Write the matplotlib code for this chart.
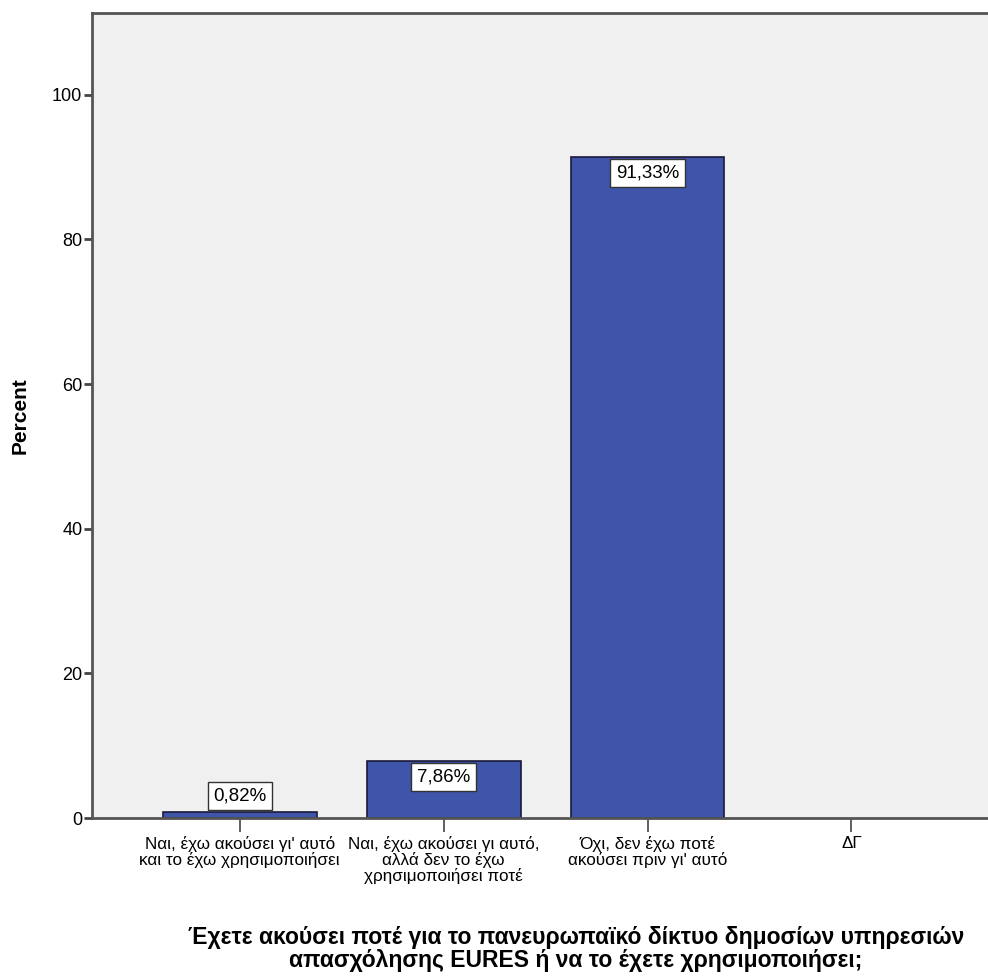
import matplotlib.pyplot as plt

categories = [
    "Ναι, έχω ακούσει γι' αυτό\nκαι το έχω χρησιμοποιήσει",
    "Ναι, έχω ακούσει γι αυτό,\nαλλά δεν το έχω\nχρησιμοποιήσει ποτέ",
    "Όχι, δεν έχω ποτέ\nακούσει πριν γι' αυτό",
    "ΔΓ",
]
percents = [0.82, 7.86, 91.33, 0.0]
value_labels = ["0,82%", "7,86%", "91,33%", None]

plt.rcParams['font.family'] = ['Liberation Sans Narrow', 'Liberation Sans', 'DejaVu Sans']

fig = plt.figure(figsize=(9.88, 9.8), dpi=100)
ax = fig.add_axes([0.0931, 0.1653, 0.9069, 0.8214])
ax.set_facecolor('#f0f0f0')

xs = list(range(len(categories)))
widths = [1.2 if v > 0 else 0 for v in percents]
ax.bar(xs, percents, width=0.755, color='#3f55a9', edgecolor='#1a1a3a', linewidth=widths, zorder=2)

for x, v, lab in zip(xs, percents, value_labels):
    if lab is None:
        continue
    box = dict(boxstyle='square,pad=0.3', facecolor='white', edgecolor='#333333', linewidth=1)
    if v < 3:
        ax.text(x, v + 1.0, lab, ha='center', va='bottom', fontsize=13.5, bbox=box, zorder=3)
    else:
        ax.text(x, v - 1.0, lab, ha='center', va='top', fontsize=13.5, bbox=box, zorder=3)

ax.set_xlim(-0.725, 3.67)
ax.set_ylim(0, 111.3)
ax.set_yticks([0, 20, 40, 60, 80, 100])
ax.set_xticks(xs)
ax.set_xticklabels(categories, fontsize=12.3, linespacing=1.0)
ax.tick_params(axis='y', labelsize=13, length=6, width=2, color='#444444', pad=1)
ax.tick_params(axis='x', length=10, width=1.2, color='#444444', pad=3)

for side in ['left', 'bottom', 'top']:
    ax.spines[side].set_color('#555555')
    ax.spines[side].set_linewidth(2)
ax.spines['right'].set_visible(False)

ax.set_ylabel("Percent", fontsize=15, fontweight='bold', family=['Liberation Sans', 'DejaVu Sans'], labelpad=16)

fig.text(0.583, 0.008,
         "Έχετε ακούσει ποτέ για το πανευρωπαϊκό δίκτυο δημοσίων υπηρεσιών\nαπασχόλησης EURES ή να το έχετε χρησιμοποιήσει;",
         ha='center', va='bottom', fontsize=16.5, fontweight='bold', linespacing=1.0)

fig.savefig('out.png', dpi=100)
